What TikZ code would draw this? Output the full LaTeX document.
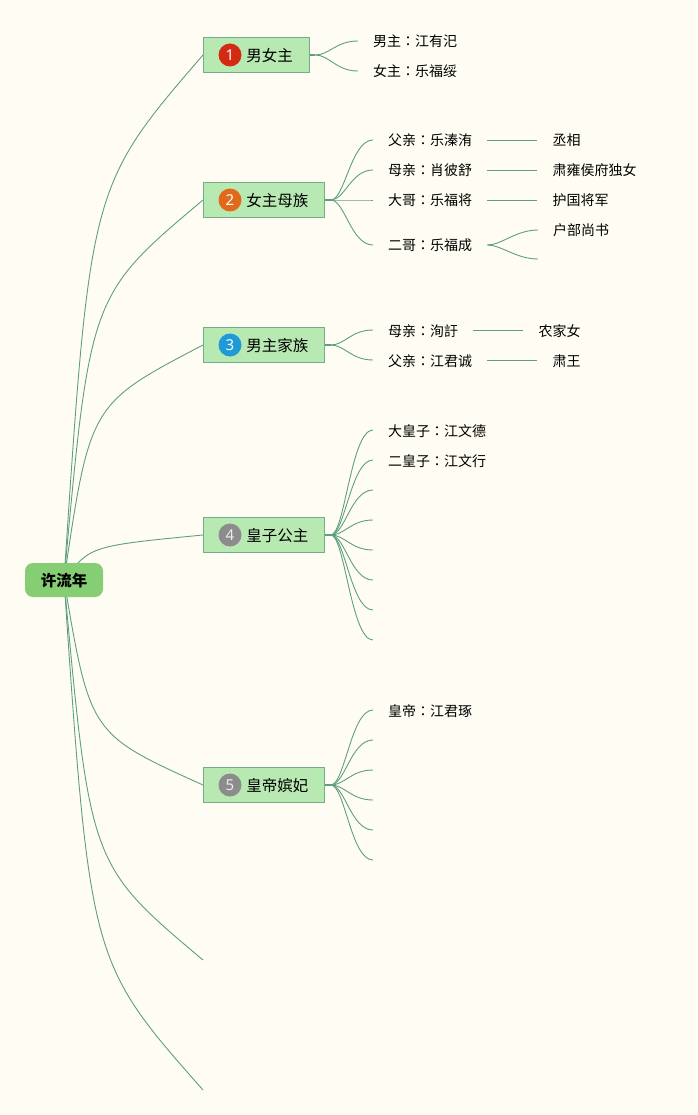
\documentclass[tikz,border=0pt]{standalone}
\usepackage{fontspec}
\setmainfont{Noto Sans CJK SC}
\newfontfamily\numfont{Noto Sans}
\newfontfamily\colonfont{Noto Sans CJK TC}
\newcommand{\cln}{{\colonfont ：}}
\usetikzlibrary{backgrounds}
\definecolor{bgc}{HTML}{FFFDF3}
\definecolor{linec}{HTML}{5E9E84}
\definecolor{boxc}{HTML}{B9E9B3}
\definecolor{boxd}{HTML}{72AE8A}
\definecolor{rootc}{HTML}{86CE74}
\definecolor{redb}{HTML}{D42A12}
\definecolor{orangeb}{HTML}{E0691A}
\definecolor{blueb}{HTML}{1E9AD6}
\definecolor{grayb}{HTML}{8C8C8C}
\begin{document}
\begin{tikzpicture}[x=1pt,y=-1pt,
 link/.style={draw=linec, line width=0.9pt},
 stub/.style={draw=linec, line width=2pt},
 rootbox/.style={fill=rootc, rounded corners=8pt, minimum width=78pt, minimum height=34pt, inner sep=0pt, text height=14pt, text depth=2pt, font=\fontsize{15.5}{18}\selectfont\bfseries},
 branchbox/.style={draw=boxd, fill=boxc, line width=0.8pt, minimum height=35pt, inner xsep=16pt, inner ysep=0pt, text height=15pt, text depth=2pt, anchor=west, font=\fontsize{15.5}{18}\selectfont},
 badge/.style={circle, minimum size=23pt, inner sep=0pt, text=white, font=\numfont\fontsize{15}{18}\selectfont},
 leaf/.style={anchor=west, inner xsep=15pt, inner ysep=2pt, text height=14pt, text depth=2pt, font=\fontsize{14}{17}\selectfont},
]
\useasboundingbox (0,0) rectangle (697,1115);

\node[rootbox] (root) at (64,580) {许流年};

\node[branchbox] (b1) at (203,55) {\hspace{27pt}男女主};
\node[badge, fill=redb] (n1) at ([xshift=27pt]b1.west) {1};
\node[branchbox] (b2) at (203,200) {\hspace{27pt}女主母族};
\node[badge, fill=orangeb] (n2) at ([xshift=27pt]b2.west) {2};
\node[branchbox] (b3) at (203,345) {\hspace{27pt}男主家族};
\node[badge, fill=blueb] (n3) at ([xshift=27pt]b3.west) {3};
\node[branchbox] (b4) at (203,535) {\hspace{27pt}皇子公主};
\node[badge, fill=grayb, text=white!85!gray] (n4) at ([xshift=27pt]b4.west) {4};
\node[branchbox] (b5) at (203,785) {\hspace{27pt}皇帝嫔妃};
\node[badge, fill=grayb, text=white!85!gray] (n5) at ([xshift=27pt]b5.west) {5};
\coordinate (e1) at (203,960);
\coordinate (e2) at (203,1090);

% branch 1
\node[leaf] (c11) at (358,41) {男主\cln 江有汜};
\node[leaf] (c12) at (358,71) {女主\cln 乐福绥};
% branch 2
\node[leaf] (c21) at (373,140) {父亲\cln 乐溱洧};
\node[leaf] (g21) at ([xshift=50pt]c21.east) {丞相};
\node[leaf] (c22) at (373,170) {母亲\cln 肖彼舒};
\node[leaf] (g22) at ([xshift=50pt]c22.east) {肃雍侯府独女};
\node[leaf] (c23) at (373,200) {大哥\cln 乐福将};
\node[leaf] (g23) at ([xshift=50pt]c23.east) {护国将军};
\node[leaf] (c24) at (373,245) {二哥\cln 乐福成};
\node[leaf] (g24) at (538,230) {户部尚书};
\coordinate (g25) at (538,259);
% branch 3
\node[leaf] (c31) at (373,330) {母亲\cln 洵訏};
\node[leaf] (g31) at ([xshift=50pt]c31.east) {农家女};
\node[leaf] (c32) at (373,360) {父亲\cln 江君诚};
\node[leaf] (g32) at ([xshift=50pt]c32.east) {肃王};
% branch 4
\node[leaf] (c41) at (373,430) {大皇子\cln 江文德};
\node[leaf] (c42) at (373,460) {二皇子\cln 江文行};
\coordinate (d43) at (373,490);
\coordinate (d44) at (373,520);
\coordinate (d45) at (373,550);
\coordinate (d46) at (373,580);
\coordinate (d47) at (373,610);
\coordinate (d48) at (373,640);
% branch 5
\node[leaf] (c51) at (373,710) {皇帝\cln 江君琢};
\coordinate (d52) at (373,740);
\coordinate (d53) at (373,770);
\coordinate (d54) at (373,800);
\coordinate (d55) at (373,830);
\coordinate (d56) at (373,860);

\begin{scope}[on background layer]
\fill[bgc] (0,0) rectangle (697,1115);
% root links
\draw[link] (root.center) .. controls (90,186) .. (b1.west);
\draw[link] (root.center) .. controls (90,295) .. (b2.west);
\draw[link] (root.center) .. controls (90,404) .. (b3.west);
\draw[link] (root.center) .. controls (90,546) .. (b4.west);
\draw[link] (root.center) .. controls (90,734) .. (b5.west);
\draw[link] (root.center) .. controls (90,865) .. (e1);
\draw[link] (root.center) .. controls (90,962) .. (e2);
% stubs
\draw[stub] (b1.east) -- ++(6,0) coordinate (f1);
\draw[stub] (b2.east) -- ++(6,0) coordinate (f2);
\draw[stub] (b3.east) -- ++(6,0) coordinate (f3);
\draw[stub] (b4.east) -- ++(6,0) coordinate (f4);
\draw[stub] (b5.east) -- ++(6,0) coordinate (f5);
% branch 1
\foreach \t in {c11,c12} \draw[link] (f1) .. controls +(14,0) and +(-22,0) .. (\t.west);
% branch 2
\foreach \t in {c21,c22,c23,c24} \draw[link] (f2) .. controls +(14,0) and +(-22,0) .. (\t.west);
\draw[link] (c21.east) -- (g21.west);
\draw[link] (c22.east) -- (g22.west);
\draw[link] (c23.east) -- (g23.west);
\draw[link] (c24.east) .. controls +(14,0) and +(-22,0) .. (g24.west);
\draw[link] (c24.east) .. controls +(14,0) and +(-22,0) .. (g25);
% branch 3
\foreach \t in {c31,c32} \draw[link] (f3) .. controls +(14,0) and +(-22,0) .. (\t.west);
\draw[link] (c31.east) -- (g31.west);
\draw[link] (c32.east) -- (g32.west);
% branch 4
\foreach \t in {c41.west,c42.west,d43,d44,d45,d46,d47,d48} \draw[link] (f4) .. controls +(14,0) and +(-22,0) .. (\t);
% branch 5
\foreach \t in {c51.west,d52,d53,d54,d55,d56} \draw[link] (f5) .. controls +(14,0) and +(-22,0) .. (\t);
\end{scope}
\end{tikzpicture}
\end{document}
